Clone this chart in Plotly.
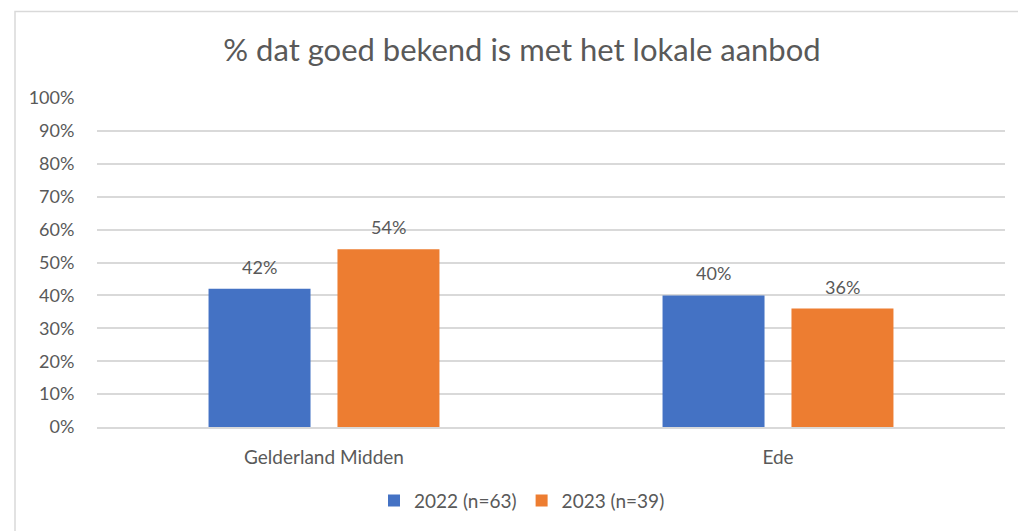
import plotly.graph_objects as go

categories = ["Gelderland Midden", "Ede"]
values_2022 = [0.42, 0.40]
values_2023 = [0.54, 0.36]
series_names = ["2022 (n=63)", "2023 (n=39)"]

W, H = 1018, 531
L, R, T, B = 97, 13, 98, 102
GREY = "#595959"
FONT = "Lato, 'Open Sans', sans-serif"


def px_x(p):
    return (p - L) / (W - L - R)


def px_y(p):
    return (H - B - p) / (H - T - B)


fig = go.Figure()
colors = ["#4472c4", "#ed7d31"]
shifts = [-64.5, 64.5]
for name, vals, color, shift in zip(series_names, [values_2022, values_2023], colors, shifts):
    fig.add_trace(
        go.Bar(
            x=categories,
            y=vals,
            name=name,
            marker=dict(color=color, line=dict(width=0)),
        )
    )
    # data labels above each bar
    for cat, v in zip(categories, vals):
        fig.add_annotation(
            x=cat,
            y=v,
            text=f"{v:.0%}",
            showarrow=False,
            xshift=shift,
            yshift=22,
            yanchor="middle",
            font=dict(size=18, color=GREY, family=FONT),
        )

fig.update_layout(
    width=W,
    height=H,
    margin=dict(l=L, r=R, t=T, b=B),
    paper_bgcolor="white",
    plot_bgcolor="white",
    font=dict(family=FONT, color=GREY, size=18),
    barmode="group",
    bargap=0.432,
    bargroupgap=0.209,
    title=dict(
        text="% dat goed bekend is met het lokale aanbod",
        x=522 / W,
        xanchor="center",
        y=1 - 50 / H,
        yanchor="middle",
        font=dict(size=31, color=GREY, family=FONT),
    ),
    legend=dict(
        orientation="h",
        x=px_x(522),
        xanchor="center",
        y=px_y(503),
        yanchor="middle",
        font=dict(size=19, color=GREY),
        itemwidth=30,
    ),
    shapes=[
        dict(
            type="rect",
            xref="paper",
            yref="paper",
            x0=px_x(15),
            x1=px_x(1040),
            y0=px_y(560),
            y1=px_y(11),
            line=dict(color="#d9d9d9", width=1.5),
            layer="below",
        )
    ],
)

fig.update_yaxes(
    range=[0, 1],
    dtick=0.1,
    tickformat=".0%",
    showgrid=True,
    gridcolor="#d9d9d9",
    gridwidth=1.5,
    zeroline=False,
    showline=False,
    ticks="outside",
    ticklen=18,
    tickcolor="rgba(0,0,0,0)",
    tickfont=dict(size=18, color=GREY),
)
fig.update_xaxes(
    showline=True,
    linecolor="#d9d9d9",
    linewidth=1.5,
    ticks="outside",
    ticklen=12,
    tickcolor="rgba(0,0,0,0)",
    tickfont=dict(size=19, color=GREY),
)

fig.write_html(
    "out.html",
    config={"displayModeBar": False},
    post_script="document.body.style.margin='0';",
)
